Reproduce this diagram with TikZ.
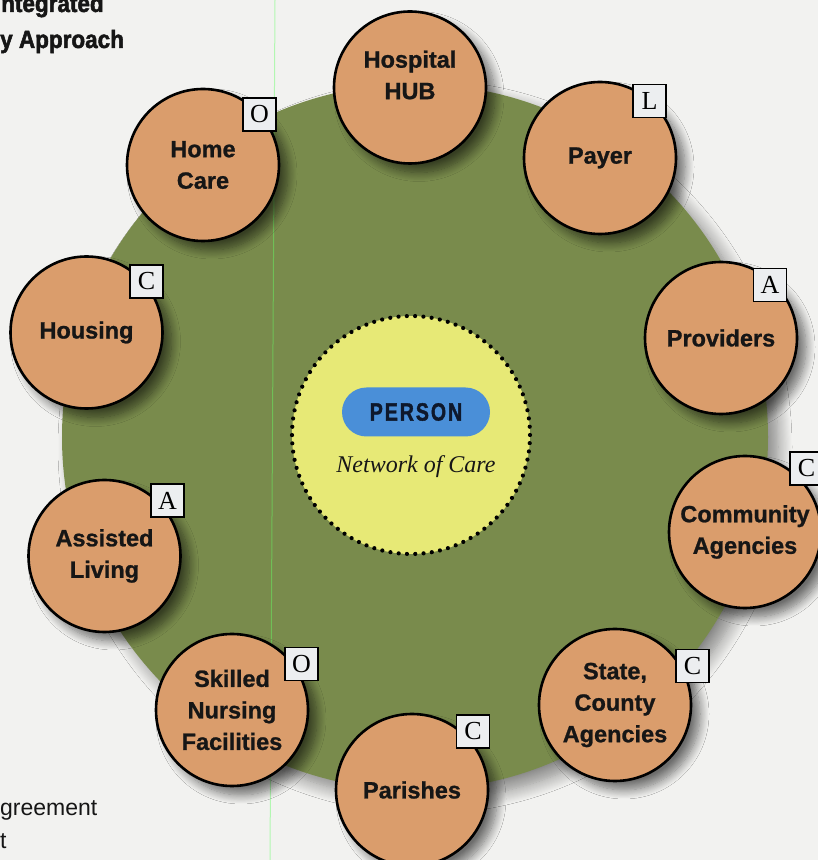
\documentclass[tikz,border=0pt]{standalone}
\usepackage{fontspec}
\usetikzlibrary{shadows.blur}

\newfontfamily\labelfont{Liberation Sans}[BoldFeatures={FakeBold=1}]
\newfontfamily\headfont{Liberation Sans}[FakeStretch=0.9,BoldFeatures={FakeBold=2}]
\newfontfamily\pillfont{Liberation Sans}[FakeStretch=0.78,LetterSpace=8,BoldFeatures={FakeBold=1.5}]
\newfontfamily\tagfont{Liberation Serif}
\newfontfamily\carefont{Liberation Serif}

\definecolor{paper}{RGB}{242,242,240}
\definecolor{ringgreen}{RGB}{121,139,76}
\definecolor{coreyellow}{RGB}{231,233,118}
\definecolor{partnerfill}{RGB}{218,157,108}
\definecolor{pillblue}{RGB}{74,143,216}
\definecolor{pilltext}{RGB}{14,24,44}
\definecolor{tagfill}{RGB}{236,238,240}
\definecolor{ink}{RGB}{22,22,22}

\tikzset{
  partner/.style={circle, draw=black, line width=2.6pt, fill=partnerfill,
    minimum size=152pt, inner sep=0pt, align=center, text=ink,
    font=\labelfont\bfseries\fontsize{23.5}{31.5}\selectfont,
    blur shadow={shadow xshift=9pt, shadow yshift=-9pt,
      shadow blur radius=9pt, shadow blur steps=12, shadow opacity=55}},
  tagbox/.style={draw=black, line width=1.1pt, fill=tagfill,
    minimum size=33pt, inner sep=0pt,
    font=\tagfont\fontsize{26}{26}\selectfont},
  pagetext/.style={anchor=base west, inner sep=0pt, text=ink},
}

\begin{document}
\begin{tikzpicture}[x=1pt,y=1pt]
  \useasboundingbox (0,0) rectangle (818,860);
  \fill[paper] (0,0) rectangle (818,860);

  % heading and running text at the page edge
  \node[pagetext, font=\headfont\bfseries\fontsize{25}{25}\selectfont] (head1) at (1,848) {ntegrated};
  \node[pagetext, font=\headfont\bfseries\fontsize{25}{25}\selectfont] (head2) at (0,812) {y Approach};
  \node[pagetext, font=\labelfont\fontsize{23}{23}\selectfont] (foot1) at (0,45) {greement};
  \node[pagetext, font=\labelfont\fontsize{23}{23}\selectfont] (foot2) at (0,12) {t};

  % network of care
  \fill[ringgreen, blur shadow={shadow xshift=10pt, shadow yshift=-10pt,
    shadow blur radius=14pt, shadow blur steps=14, shadow opacity=45}] (415,423) circle (353pt);
  \fill[coreyellow] (411,425) circle (119pt);
  \draw[line width=4.2pt, dash pattern=on 0pt off 8.31pt, line cap=round] (411,425) circle (119pt);
  \node[fill=pillblue, rounded corners=24.5pt, minimum width=148pt, minimum height=49pt,
    text=pilltext, font=\pillfont\bfseries\fontsize{25}{25}\selectfont] (person) at (416,448) {PERSON};
  \node[font=\carefont\itshape\fontsize{24}{24}\selectfont, text=ink] (network) at (416,393) {Network of Care};

  \draw[green!60!white, line width=1pt, opacity=0.45] (275,860) -- (270,0);

  \node[partner] (hub) at (410,772.5) {};
  \node[align=center, text=ink, font=\labelfont\bfseries\fontsize{23.5}{31.5}\selectfont] (hub-text) at (410,785) {Hospital\\HUB};

  \foreach \n/\x/\y/\txt/\tag/\bx/\by in {%
      home/203/695/{Home\\Care}/O/259.5/745.5,
      payer/600/702/{Payer}/L/649.5/759,
      prov/721/522/{Providers}/A/770/575,
      comm/745/328/{Community\\Agencies}/C/806.5/391.5,
      state/615/155/{State,\\County\\Agencies}/C/692.5/194,
      par/412/70/{Parishes}/C/473/128.5,
      snf/232/150/{Skilled\\Nursing\\Facilities}/O/301.5/196,
      al/104.5/304/{Assisted\\Living}/A/167.5/359.5,
      hous/86.5/527.5/{Housing}/C/146.5/578.5} {
    \node[partner] (\n) at (\x,\y) {\txt};
    \node[tagbox] (\n-tag) at (\bx,\by) {\tag};
  }
\end{tikzpicture}
\end{document}
